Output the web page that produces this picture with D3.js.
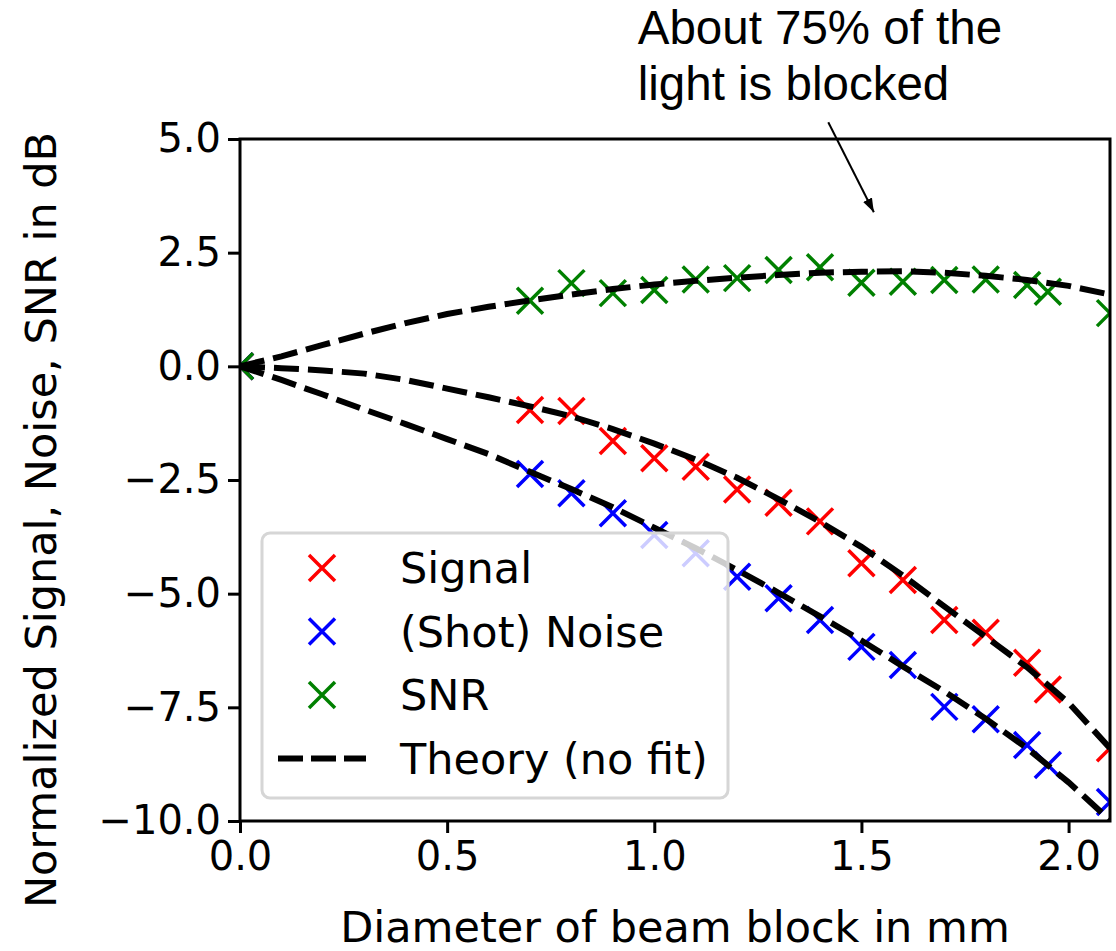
<!DOCTYPE html>
<html>
<head>
<meta charset="utf-8">
<script src="https://cdn.jsdelivr.net/npm/d3@7"></script>
<style>
    body { margin: 0; background: #fff; }
    svg { display: block; font-family: "DejaVu Sans", sans-serif; }
    .axis path, .axis line { stroke: #000; stroke-width: 3; }
    .axis text { font-size: 40px; fill: #000; font-family: "DejaVu Sans", sans-serif; }
    .title { font-size: 43px; fill: #000; }
    .note { font-family: "Liberation Sans", Arial, sans-serif; font-size: 47.5px; fill: #000; }
</style>
</head>
<body>
<div id="vis"></div>
<script>
let diameters = [0, 0.7, 0.8, 0.9, 1.0, 1.1, 1.2, 1.3, 1.4, 1.5, 1.6, 1.7, 1.8, 1.9, 1.95, 2.1];
let signalDb = [0, -0.96, -0.98, -1.64, -2.02, -2.21, -2.71, -3.0, -3.41, -4.33, -4.70, -5.58, -5.86, -6.52, -7.11, -8.40];
let noiseDb = [0, -2.37, -2.79, -3.23, -3.71, -4.11, -4.63, -5.10, -5.58, -6.17, -6.57, -7.49, -7.76, -8.33, -8.77, -9.58];
let snrDb = [0, 1.44, 1.83, 1.61, 1.68, 1.91, 1.94, 2.12, 2.18, 1.84, 1.86, 1.90, 1.91, 1.79, 1.64, 1.17];

// Theory curves (no fit)
let theoryX = [0, 0.1, 0.2, 0.3, 0.4, 0.5, 0.6, 0.7, 0.8, 0.9, 1.0, 1.1, 1.2, 1.3, 1.4, 1.5, 1.6, 1.7, 1.8, 1.9, 2.0, 2.1];
let theorySignal = [0, -0.04, -0.09, -0.16, -0.3, -0.49, -0.68, -0.88, -1.1, -1.38, -1.7, -2.05, -2.45, -2.92, -3.42, -3.97, -4.6, -5.28, -5.95, -6.62, -7.4, -8.4];
let theoryNoise = [0, -0.3, -0.62, -0.95, -1.27, -1.6, -1.93, -2.32, -2.7, -3.1, -3.55, -4.0, -4.48, -4.98, -5.5, -6.03, -6.6, -7.15, -7.75, -8.4, -9.15, -9.98];
let theorySnr = [0, 0.22, 0.47, 0.72, 0.95, 1.15, 1.31, 1.45, 1.58, 1.7, 1.8, 1.88, 1.95, 2.01, 2.06, 2.08, 2.09, 2.06, 1.99, 1.9, 1.77, 1.58];

let xTicks = [0, 0.5, 1.0, 1.5, 2.0];
let yTicks = [5, 2.5, 0, -2.5, -5, -7.5, -10];
let legendLabels = ['Signal', '(Shot) Noise', 'SNR', 'Theory (no fit)'];
let noteLines = ['About 75% of the', 'light is blocked'];
// annotation: text anchor and arrow, in data units
let noteText = [0.96, 7.1];
let arrowFrom = [1.42, 5.37];
let arrowTo = [1.53, 3.39];

let margin = { left: 240, right: 6, top: 139, bottom: 130 };
let W = 1116, H = 951;
let width = W - margin.left - margin.right;
let height = H - margin.top - margin.bottom;

let svg = d3.select('#vis').append('svg')
    .attr('width', W)
    .attr('height', H);

let xScale = d3.scaleLinear().domain([0, 2.1]).range([0, width]);
let yScale = d3.scaleLinear().domain([-10, 5]).range([height, 0]);

svg.append('defs').append('clipPath').attr('id', 'plotclip')
    .append('rect').attr('width', width).attr('height', height);
svg.select('defs').append('marker')
    .attr('id', 'head')
    .attr('viewBox', '0 0 10 10')
    .attr('refX', 10).attr('refY', 5)
    .attr('markerWidth', 7).attr('markerHeight', 7)
    .attr('markerUnits', 'strokeWidth')
    .attr('orient', 'auto')
    .append('path').attr('d', 'M0,1.5 L10,5 L0,8.5 Z').attr('fill', '#000');

let g = svg.append('g')
    .attr('transform', `translate(${margin.left}, ${margin.top})`);

let plot = g.append('g').attr('clip-path', 'url(#plotclip)');

// x-shaped marker path
let cross = (s) => `M${-s},${-s}L${s},${s}M${-s},${s}L${s},${-s}`;

let series = [
    { vals: signalDb, color: '#ff0000' },
    { vals: noiseDb, color: '#0000ff' },
    { vals: snrDb, color: '#008000' },
];

series.forEach(s => {
    plot.append('g').selectAll('path')
        .data(diameters.map((d, i) => [d, s.vals[i]]))
        .join('path')
        .attr('transform', d => `translate(${xScale(d[0])}, ${yScale(d[1])})`)
        .attr('d', cross(13))
        .attr('stroke', s.color)
        .attr('stroke-width', 3.5)
        .attr('fill', 'none');
});

let line = d3.line().x(d => xScale(d[0])).y(d => yScale(d[1]));
[theorySignal, theoryNoise, theorySnr].forEach(vals => {
    plot.append('path')
        .datum(theoryX.map((x, i) => [x, vals[i]]))
        .attr('d', line)
        .attr('fill', 'none')
        .attr('stroke', '#000')
        .attr('stroke-width', 6)
        .attr('stroke-dasharray', '25 9');
});

// axes
let xAxis = d3.axisBottom(xScale).tickValues(xTicks).tickFormat(d3.format('.1f')).tickSizeOuter(0).tickSize(12).tickPadding(9);
let yAxis = d3.axisLeft(yScale).tickValues(yTicks).tickFormat(d => d3.format('.1f')(d).replace('-', '\u2212')).tickSizeOuter(0).tickSize(12).tickPadding(7);

g.append('g').attr('class', 'axis').attr('transform', `translate(0, ${height})`).call(xAxis)
    .select('.domain').remove();
g.append('g').attr('class', 'axis').call(yAxis)
    .select('.domain').remove();

g.append('rect')
    .attr('width', width).attr('height', height)
    .attr('fill', 'none').attr('stroke', '#000').attr('stroke-width', 3);

svg.append('text').attr('class', 'title')
    .attr('text-anchor', 'middle')
    .attr('x', margin.left + width / 2).attr('y', 942)
    .text('Diameter of beam block in mm');

svg.append('text').attr('class', 'title')
    .attr('text-anchor', 'middle')
    .attr('transform', `translate(56, ${margin.top + height / 2 + 40}) rotate(-90)`)
    .text('Normalized Signal, Noise, SNR in dB');

// legend
let lg = svg.append('g').attr('transform', 'translate(262, 533)');
lg.append('rect')
    .attr('width', 466).attr('height', 265)
    .attr('rx', 8)
    .attr('fill', 'rgba(255,255,255,0.8)')
    .attr('stroke', '#d6d6d6').attr('stroke-width', 3);

legendLabels.forEach((label, i) => {
    let y = 35 + i * 63.5;
    if (i < 3) {
        lg.append('path')
            .attr('transform', `translate(60, ${y})`)
            .attr('d', cross(13))
            .attr('stroke', series[i].color).attr('stroke-width', 3.5).attr('fill', 'none');
    } else {
        lg.append('line')
            .attr('x1', 16).attr('x2', 104).attr('y1', y).attr('y2', y)
            .attr('stroke', '#000').attr('stroke-width', 6).attr('stroke-dasharray', '25 8');
    }
    lg.append('text').attr('class', 'title')
        .attr('x', 138).attr('y', y + 15)
        .text(label);
});

// annotation
let note = svg.append('text').attr('class', 'note')
    .attr('x', margin.left + xScale(noteText[0]))
    .attr('y', margin.top + yScale(noteText[1]));
noteLines.forEach((t, i) => {
    note.append('tspan')
        .attr('x', margin.left + xScale(noteText[0]))
        .attr('dy', i === 0 ? 0 : 56)
        .text(t);
});

svg.append('line')
    .attr('x1', margin.left + xScale(arrowFrom[0])).attr('y1', margin.top + yScale(arrowFrom[1]))
    .attr('x2', margin.left + xScale(arrowTo[0])).attr('y2', margin.top + yScale(arrowTo[1]))
    .attr('stroke', '#000').attr('stroke-width', 2)
    .attr('marker-end', 'url(#head)');
</script>
</body>
</html>
